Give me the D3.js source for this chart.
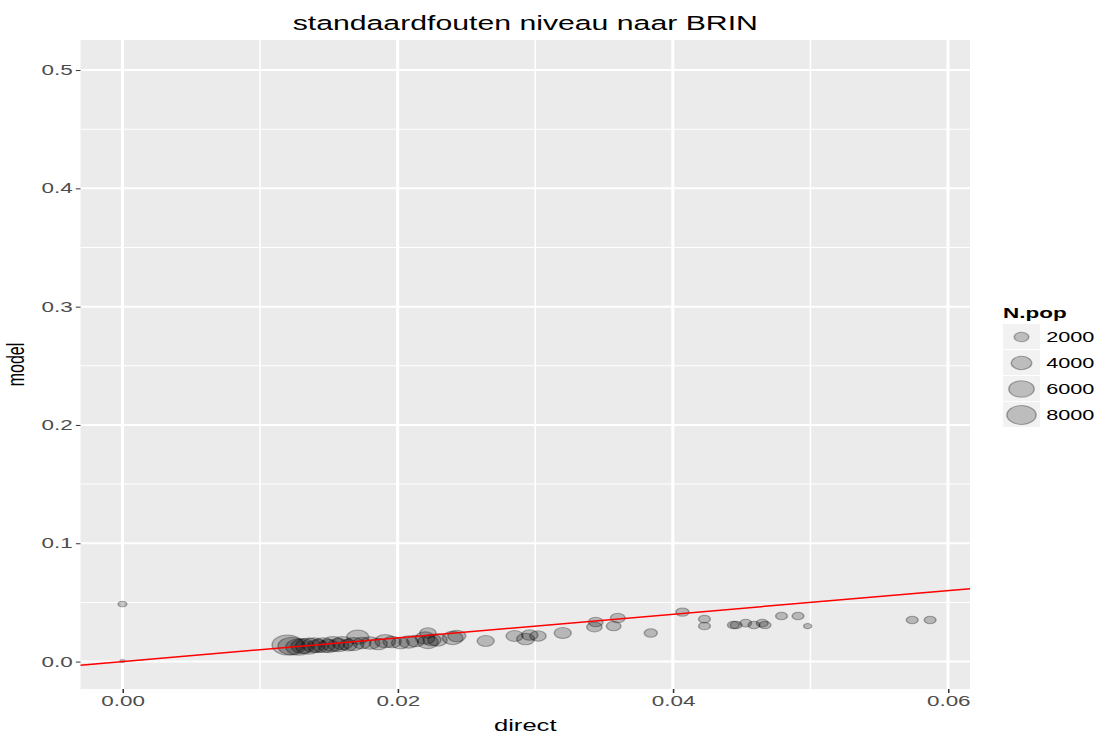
<!DOCTYPE html>
<html>
<head>
<meta charset="utf-8">
<script src="https://cdn.jsdelivr.net/npm/d3@7"></script>
<style>
  body { margin: 0; background: #fff; }
  text { font-family: "Liberation Sans", Arial, sans-serif; }
</style>
</head>
<body>
<div id="chart"></div>
<script>
//////////////////////////////////////////////////////////////////////////////
// Data

var title = "standaardfouten niveau naar BRIN";
var xLabel = "direct";
var yLabel = "model";
var sizeLabel = "N.pop";

var directSE = [
    0.0000, 0.0000,
    0.0120, 0.0123, 0.0128, 0.0131, 0.0135, 0.0139, 0.0142, 0.0146, 0.0150, 0.0153,
    0.0157, 0.0160, 0.0164, 0.0168, 0.0171, 0.0174, 0.0180, 0.0186, 0.0191, 0.0196,
    0.0202, 0.0208, 0.0213, 0.0220, 0.0222, 0.0225, 0.0240, 0.0243, 0.0222, 0.0229,
    0.0264, 0.0285, 0.0293, 0.0296, 0.0302, 0.0320, 0.0343, 0.0344, 0.0357, 0.0360,
    0.0384, 0.0407, 0.0423, 0.0423, 0.0444, 0.0446, 0.0453, 0.0459, 0.0465, 0.0467,
    0.0479, 0.0491, 0.0498, 0.0574, 0.0587
];
var modelSE = [
    0.0486, 0.0004,
    0.0140, 0.0131, 0.0123, 0.0131, 0.0131, 0.0139, 0.0131, 0.0139, 0.0131, 0.0148,
    0.0139, 0.0156, 0.0139, 0.0148, 0.0207, 0.0156, 0.0156, 0.0148, 0.0173, 0.0165,
    0.0156, 0.0165, 0.0173, 0.0199, 0.0165, 0.0182, 0.0199, 0.0216, 0.0241, 0.0182,
    0.0173, 0.0216, 0.0190, 0.0224, 0.0216, 0.0241, 0.0292, 0.0334, 0.0300, 0.0368,
    0.0241, 0.0418, 0.0359, 0.0300, 0.0309, 0.0309, 0.0325, 0.0309, 0.0325, 0.0309,
    0.0385, 0.0385, 0.0300, 0.0351, 0.0351
];
var nPop = [
    700, 200,
    9000, 7000, 6000, 5000, 6000, 5000, 4000, 5000, 4000, 5000,
    4000, 4000, 3000, 4000, 4500, 3000, 3500, 3000, 4000, 3000,
    3000, 3500, 3000, 3500, 4000, 3000, 4000, 3000, 2500, 3500,
    2700, 2700, 3000, 2500, 2500, 2700, 2200, 2000, 2000, 2000,
    1600, 1600, 1300, 1300, 1300, 1300, 1300, 1300, 1300, 1300,
    1300, 1300, 600, 1300, 1300
];

var xTicks = [0.00, 0.02, 0.04, 0.06];
var xMinor = [0.01, 0.03, 0.05];
var yTicks = [0.0, 0.1, 0.2, 0.3, 0.4, 0.5];
var yMinor = [0.05, 0.15, 0.25, 0.35, 0.45];
var legendSizes = [2000, 4000, 6000, 8000];

//////////////////////////////////////////////////////////////////////////////
// Preliminaries

var width = 1110, height = 736;
var stretch = 1.55;   // picture is squeezed wider than it is tall

var panel = { left: 80.5, right: 970, top: 40, bottom: 689 };

var xScale = d3.scaleLinear()
    .domain([-0.00305, 0.0616])
    .range([panel.left / stretch, panel.right / stretch]);
var yScale = d3.scaleLinear()
    .domain([-0.0232, 0.5254])
    .range([panel.bottom, panel.top]);
var rScale = d3.scaleSqrt().domain([0, 9000]).range([0, 10]);

var points = directSE.map(function(d, i) {
    return { direct: d, model: modelSE[i], n: nPop[i] };
});

var svg = d3.select("#chart")
    .append("svg")
    .attr("width", width)
    .attr("height", height);

var g = svg.append("g")
    .attr("transform", "scale(" + stretch + ",1)");

var x0 = panel.left / stretch, x1 = panel.right / stretch;

//////////////////////////////////////////////////////////////////////////////
// Panel and grid

g.append("rect")
    .attr("x", x0).attr("y", panel.top)
    .attr("width", x1 - x0).attr("height", panel.bottom - panel.top)
    .attr("fill", "#ebebeb");

g.append("g").selectAll("line")
    .data(yMinor).enter().append("line")
    .attr("x1", x0).attr("x2", x1)
    .attr("y1", yScale).attr("y2", yScale)
    .attr("stroke", "#fff").attr("stroke-width", 1);

g.append("g").selectAll("line")
    .data(xMinor).enter().append("line")
    .attr("x1", xScale).attr("x2", xScale)
    .attr("y1", panel.top).attr("y2", panel.bottom)
    .attr("stroke", "#fff").attr("stroke-width", 1);

g.append("g").selectAll("line")
    .data(yTicks).enter().append("line")
    .attr("x1", x0).attr("x2", x1)
    .attr("y1", yScale).attr("y2", yScale)
    .attr("stroke", "#fff").attr("stroke-width", 2);

g.append("g").selectAll("line")
    .data(xTicks).enter().append("line")
    .attr("x1", xScale).attr("x2", xScale)
    .attr("y1", panel.top).attr("y2", panel.bottom)
    .attr("stroke", "#fff").attr("stroke-width", 2);

//////////////////////////////////////////////////////////////////////////////
// Points and y = x line

g.append("g").selectAll("circle")
    .data(points).enter().append("circle")
    .attr("cx", function(d) { return xScale(d.direct); })
    .attr("cy", function(d) { return yScale(d.model); })
    .attr("r", function(d) { return rScale(d.n); })
    .attr("fill", "#000").attr("fill-opacity", 0.22)
    .attr("stroke", "#000").attr("stroke-opacity", 0.3)
    .attr("stroke-width", 1);

var lineDom = xScale.domain();
g.append("line")
    .attr("x1", xScale(lineDom[0])).attr("y1", yScale(lineDom[0]))
    .attr("x2", xScale(lineDom[1])).attr("y2", yScale(lineDom[1]))
    .attr("stroke", "#ff0000").attr("stroke-width", 1.5);

//////////////////////////////////////////////////////////////////////////////
// Axes

var xAxis = g.append("g")
    .attr("transform", "translate(0," + panel.bottom + ")")
    .call(d3.axisBottom(xScale).tickValues(xTicks)
        .tickFormat(d3.format(".2f")).tickSizeInner(4).tickSizeOuter(0).tickPadding(3));
xAxis.select(".domain").remove();
xAxis.selectAll(".tick line").attr("stroke", "#333");
xAxis.selectAll(".tick text")
    .attr("fill", "#4d4d4d").style("font-size", "14.5px");

var yAxis = g.append("g")
    .attr("transform", "translate(" + x0 + ",0)")
    .call(d3.axisLeft(yScale).tickValues(yTicks)
        .tickFormat(d3.format(".1f")).tickSizeInner(3).tickSizeOuter(0).tickPadding(2));
yAxis.select(".domain").remove();
yAxis.selectAll(".tick line").attr("stroke", "#333");
yAxis.selectAll(".tick text")
    .attr("fill", "#4d4d4d").style("font-size", "14.5px");

g.append("text")
    .attr("x", ((panel.left + panel.right) / 2) / stretch)
    .attr("y", 30)
    .attr("text-anchor", "middle")
    .style("font-size", "19.5px")
    .text(title);

g.append("text")
    .attr("x", ((panel.left + panel.right) / 2) / stretch)
    .attr("y", 731)
    .attr("text-anchor", "middle")
    .style("font-size", "16.5px")
    .text(xLabel);

g.append("text")
    .attr("transform", "translate(" + (24 / stretch) + "," + ((panel.top + panel.bottom) / 2) + ") rotate(-90)")
    .attr("text-anchor", "middle")
    .style("font-size", "16px")
    .text(yLabel);

//////////////////////////////////////////////////////////////////////////////
// Legend

var legend = g.append("g")
    .attr("transform", "translate(" + (1003 / stretch) + ",0)");

legend.append("text")
    .attr("x", 0).attr("y", 318)
    .style("font-size", "14.5px").style("font-weight", "bold")
    .text(sizeLabel);

var keyW = 37 / stretch, keyH = 26;

var keys = legend.selectAll("g.key")
    .data(legendSizes).enter().append("g")
    .attr("class", "key")
    .attr("transform", function(d, i) { return "translate(0," + (324 + i * keyH) + ")"; });

keys.append("rect")
    .attr("width", keyW).attr("height", keyH - 1)
    .attr("fill", "#f2f2f2");

keys.append("circle")
    .attr("cx", keyW / 2).attr("cy", keyH / 2)
    .attr("r", rScale)
    .attr("fill", "#000").attr("fill-opacity", 0.22)
    .attr("stroke", "#000").attr("stroke-opacity", 0.3)
    .attr("stroke-width", 1);

keys.append("text")
    .attr("x", keyW + 4).attr("y", keyH / 2 + 5)
    .style("font-size", "14px")
    .text(function(d) { return d; });
</script>
</body>
</html>
